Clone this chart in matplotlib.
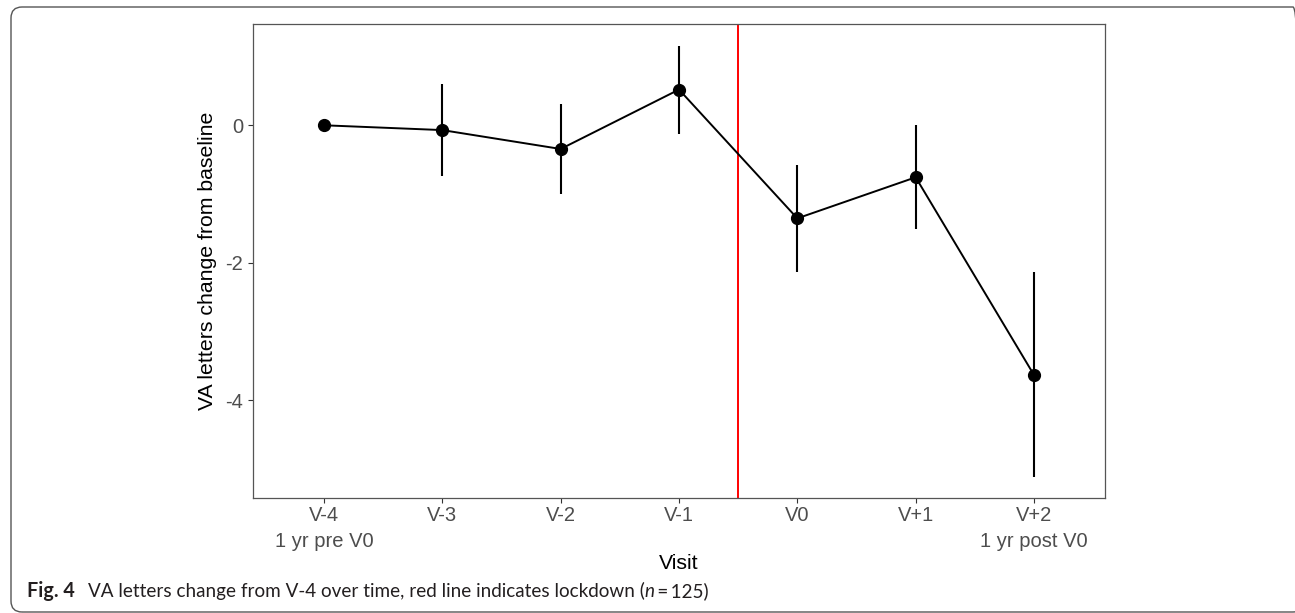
import matplotlib
matplotlib.use("Agg")
import matplotlib.pyplot as plt
from matplotlib.patches import FancyBboxPatch
from matplotlib.transforms import IdentityTransform
import numpy as np

# ---- data ----
visits = ["V-4\n1 yr pre V0", "V-3", "V-2", "V-1", "V0", "V+1", "V+2\n1 yr post V0"]
means = [0.0, -0.07, -0.345, 0.52, -1.355, -0.757, -3.635]
lower = [0.0, -0.74, -1.0, -0.127, -2.135, -1.51, -5.115]
upper = [0.0, 0.6, 0.314, 1.16, -0.58, 0.0, -2.14]
yticks = [0, -2, -4]
lockdown_pos = 3.5

W, H = 1295, 613
fig = plt.figure(figsize=(W / 100, H / 100), dpi=100)
ax = fig.add_axes([253 / W, 1 - 498.3 / H, (1105 - 253) / W, (498.3 - 24.3) / H])

x = np.arange(len(visits))
ax.vlines(x, lower, upper, color="black", linewidth=1.5, zorder=2)
ax.plot(x, means, color="black", linewidth=1.4, zorder=3)
ax.plot(x, means, "o", color="black", markersize=8.5, zorder=4)
ax.axvline(lockdown_pos, color="#FF0000", linewidth=1.4, zorder=1)

ax.set_xlim(-0.6, len(visits) - 0.4)
ax.set_ylim(-5.43, 1.47)
ax.set_xticks(x)
ax.set_xticklabels(visits, fontsize=14.5, color="#4D4D4D", family="Liberation Sans",
                   linespacing=1.42)
ax.set_yticks(yticks)
ax.set_yticklabels([str(v) for v in yticks], fontsize=14.5, color="#4D4D4D",
                   family="Liberation Sans")
ax.tick_params(axis="both", length=3.5, width=0.8, color="#333333", pad=3.5)
ax.tick_params(axis="x", pad=2.2)
for s in ax.spines.values():
    s.set_color("#555555")
    s.set_linewidth(0.9)

ax.set_xlabel("Visit", fontsize=15.3, family="Liberation Sans", labelpad=2.5)
ax.set_ylabel("VA letters change from baseline", fontsize=15.3,
              family="Liberation Sans", labelpad=6)

# ---- outer rounded frame ----
frame = FancyBboxPatch((11, 1), 1283 + 10, 605, boxstyle="round,pad=0,rounding_size=11",
                       transform=IdentityTransform(), facecolor="none",
                       edgecolor="#555555", linewidth=1.0)
fig.patches.append(frame)

# ---- caption ----
fig.canvas.draw()
renderer = fig.canvas.get_renderer()
cap_y = 1 - 597 / H
cap_font = "Lato"
pieces = [
    ("Fig. 4", dict(weight="bold", fontsize=14.2), 27, 0),
    ("VA letters change from V-4 over time, red line indicates lockdown (", dict(), None, 13),
    ("n", dict(style="italic"), None, 0),
    ("\u2009=\u2009125)", dict(), None, 0),
]
cur_x = None
for txt, kw, px, gap in pieces:
    xpos = px if px is not None else cur_x + gap
    kw = dict(kw)
    fs = kw.pop("fontsize", 13.6)
    t = fig.text(xpos / W, cap_y, txt, fontsize=fs, family=[cap_font, "DejaVu Sans"],
                 color="#231F20", va="baseline", ha="left", **kw)
    bb = t.get_window_extent(renderer)
    cur_x = bb.x1

fig.savefig("out.png", dpi=100)
